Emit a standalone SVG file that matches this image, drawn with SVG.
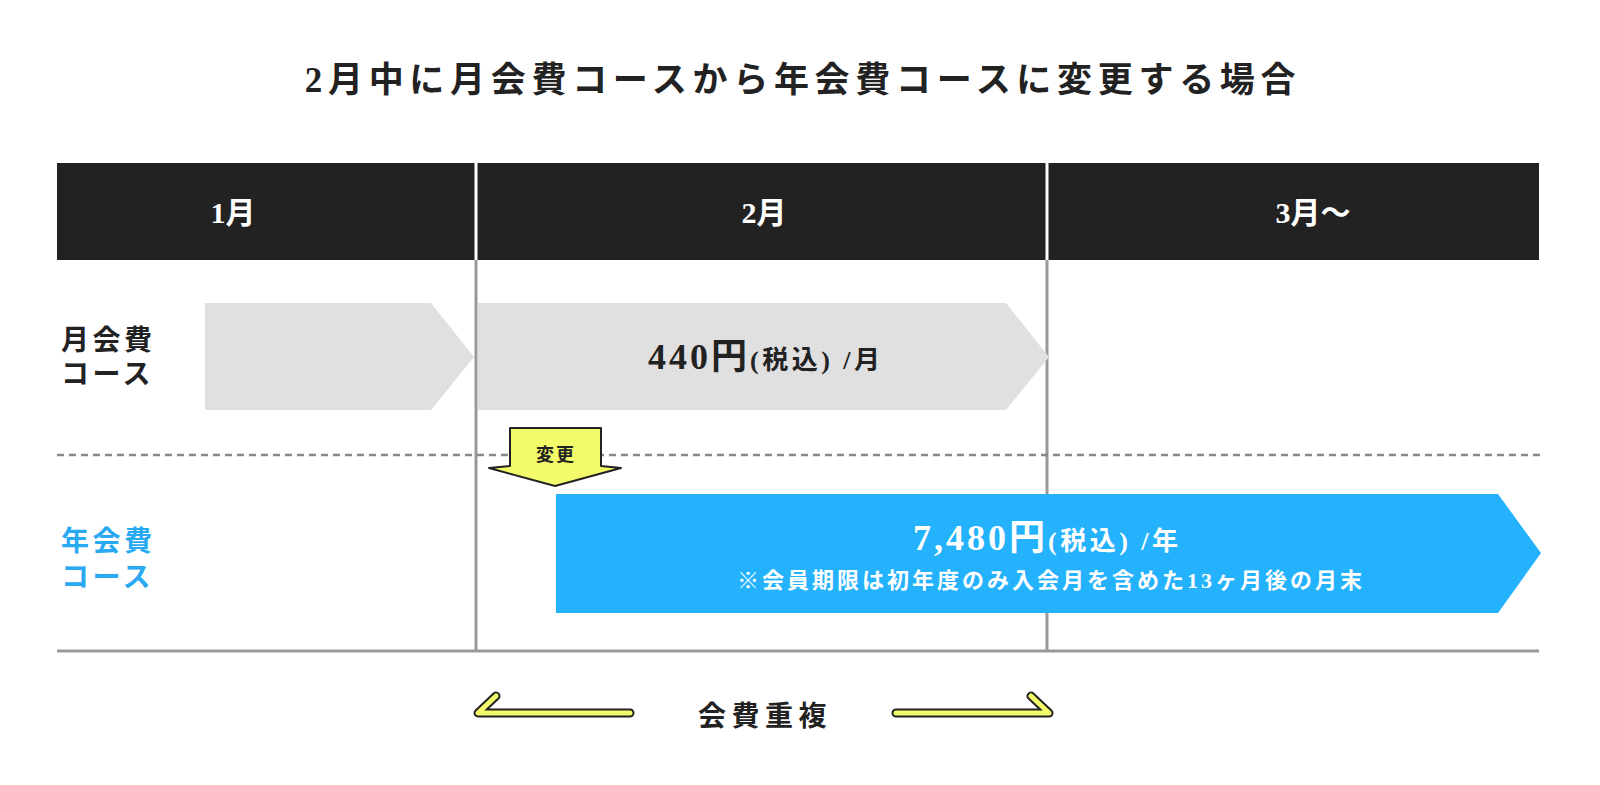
<svg xmlns="http://www.w3.org/2000/svg" width="1600" height="785" viewBox="0 0 1600 785">
<style>
.t{font-family:"Liberation Serif","Noto Sans CJK JP",serif;font-weight:bold}
.title{font-size:35px;letter-spacing:5.7px;fill:#222}
.hd{font-size:30px;fill:#fff}
.lbl{font-size:28px;letter-spacing:3.5px}
.big{font-size:36px;letter-spacing:3px}
.sm{font-size:26px;letter-spacing:3.5px}
.grid{stroke:#999;stroke-width:3;fill:none}
.ya{fill:none;stroke-linecap:round;stroke-linejoin:round}
</style>
<rect width="1600" height="785" fill="#fff"/>
<g id="title"><text class="t title" x="803" y="92" text-anchor="middle">2月中に月会費コースから年会費コースに変更する場合</text></g>
<g id="header">
<rect x="57" y="163" width="1482" height="97" fill="#222"/>
<line x1="476" y1="163" x2="476" y2="260" stroke="#fff" stroke-width="3"/>
<line x1="1047" y1="163" x2="1047" y2="260" stroke="#fff" stroke-width="3"/>
<text class="t hd" x="233" y="223" text-anchor="middle">1月</text>
<text class="t hd" x="764" y="223" text-anchor="middle">2月</text>
<text class="t hd" x="1313" y="223" text-anchor="middle">3月〜</text>
</g>
<g id="grid">
<line class="grid" x1="476" y1="260" x2="476" y2="651"/>
<line class="grid" x1="1047" y1="260" x2="1047" y2="651"/>
<line class="grid" x1="57" y1="651" x2="1539" y2="651"/>
<line x1="57" y1="455" x2="1541" y2="455" stroke="#888" stroke-width="2.5" stroke-dasharray="7 5"/>
</g>
<g id="label-monthly"><text class="t lbl" x="61" y="350" fill="#222">月会費</text><text class="t lbl" x="61" y="384" fill="#222">コース</text></g>
<g id="label-yearly"><text class="t lbl" x="61" y="551" fill="#29a9f2">年会費</text><text class="t lbl" x="61" y="587" fill="#29a9f2">コース</text></g>
<g id="monthly-jan"><polygon points="205,303 431,303 474,357 431,410 205,410" fill="#e0e0e0"/></g>
<g id="monthly-feb"><polygon points="478,303 1006,303 1049,357 1006,410 478,410" fill="#e0e0e0"/>
<text class="t" x="648" y="369" fill="#222"><tspan class="big">440円</tspan><tspan class="sm">(税込) /月</tspan></text></g>
<g id="yearly"><polygon points="556,494 1498,494 1541,553 1498,613 556,613" fill="#25b2fd"/>
<text class="t" x="913" y="550" fill="#fff"><tspan class="big">7,480円</tspan><tspan class="sm">(税込) /年</tspan></text>
<text class="t" x="1051" y="588" fill="#fff" font-size="22" letter-spacing="3" text-anchor="middle">※会員期限は初年度のみ入会月を含めた13ヶ月後の月末</text></g>
<g id="connectors">
<g id="change-arrow"><polygon points="510,428 601,428 601,466 621,468 555,486 489,468 510,466" fill="#f4fb6b" stroke="#222" stroke-width="2" stroke-linejoin="round"/>
<text class="t" x="556" y="461" fill="#222" font-size="18" letter-spacing="2" text-anchor="middle">変更</text></g>
<g id="overlap-left"><polyline class="ya" points="496,696 478,713 630,713" stroke="#222" stroke-width="9"/><polyline class="ya" points="496,696 478,713 630,713" stroke="#f4fb6b" stroke-width="5"/></g>
<g id="overlap-right"><polyline class="ya" points="896,713 1049,713 1031,696" stroke="#222" stroke-width="9"/><polyline class="ya" points="896,713 1049,713 1031,696" stroke="#f4fb6b" stroke-width="5"/></g>
</g>
<g id="overlap-label"><text class="t" x="765" y="726" fill="#222" font-size="28" letter-spacing="5.5" text-anchor="middle">会費重複</text></g>
</svg>
